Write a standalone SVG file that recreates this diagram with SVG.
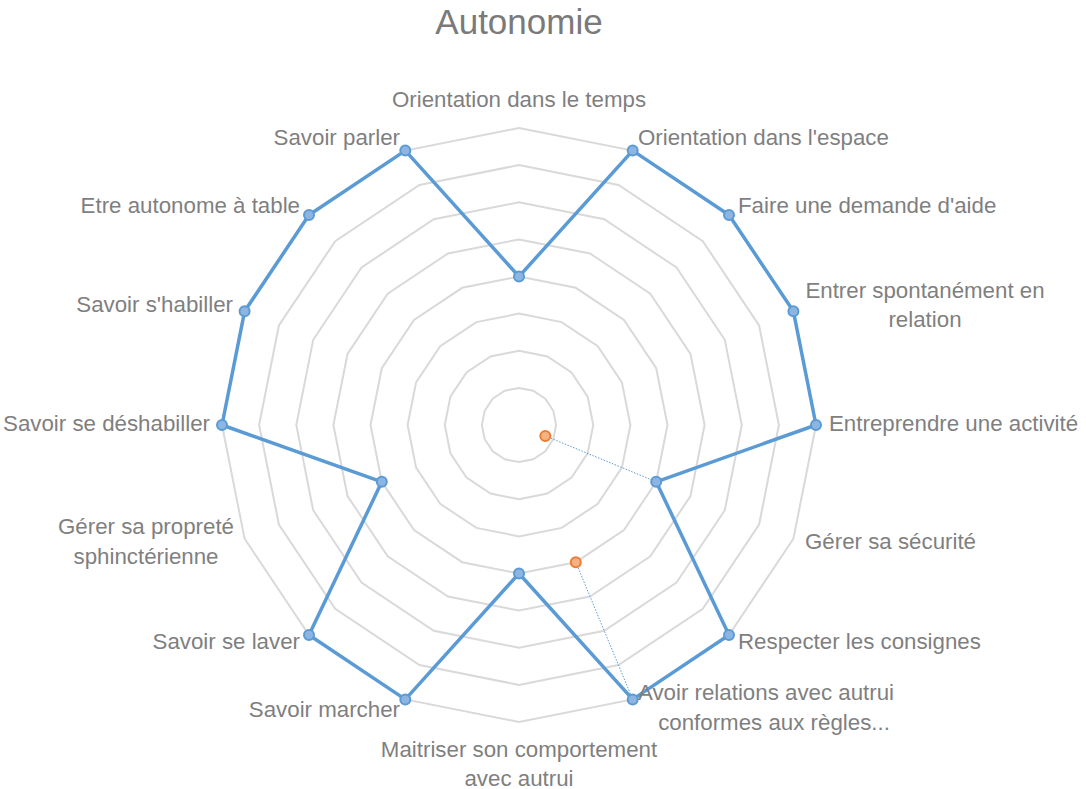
<svg xmlns="http://www.w3.org/2000/svg" width="1086" height="789" viewBox="0 0 1086 789">
<style>
.ring{fill:none;stroke:#d9d9d9;stroke-width:2}
.lbl{font-family:"Liberation Sans",Arial,sans-serif;font-size:22.3px;fill:#7f7f7f}
.title{font-family:"Liberation Sans",Arial,sans-serif;font-size:35px;fill:#7a7a7a}
.s1{fill:none;stroke:#5b9bd5;stroke-width:3.5;stroke-linejoin:round}
.m1{fill:#8db5e2;stroke:#5b9bd5;stroke-width:2}
.m2{fill:#f4b183;stroke:#ed7d31;stroke-width:2}
.dot{fill:none;stroke:#5b9bd5;stroke-width:1;stroke-dasharray:1.5 1.5}
</style>
<rect width="1086" height="789" fill="#ffffff"/>
<text class="title" x="519" y="34" text-anchor="middle">Autonomie</text>
<g id="grid">
<polygon class="ring" points="519,387.9 533.2,390.7 545.3,398.7 553.3,410.8 556.1,425 553.3,439.2 545.3,451.3 533.2,459.3 519,462.1 504.8,459.3 492.7,451.3 484.7,439.2 481.9,425 484.7,410.8 492.7,398.7 504.8,390.7"/>
<polygon class="ring" points="519,350.8 547.4,356.4 571.5,372.5 587.6,396.6 593.3,425 587.6,453.4 571.5,477.5 547.4,493.6 519,499.3 490.6,493.6 466.5,477.5 450.4,453.4 444.8,425 450.4,396.6 466.5,372.5 490.6,356.4"/>
<polygon class="ring" points="519,313.6 561.6,322.1 597.8,346.2 621.9,382.4 630.4,425 621.9,467.6 597.8,503.8 561.6,527.9 519,536.4 476.4,527.9 440.2,503.8 416.1,467.6 407.6,425 416.1,382.4 440.2,346.2 476.4,322.1"/>
<polygon class="ring" points="519,276.5 575.8,287.8 624,320 656.2,368.2 667.5,425 656.2,481.8 624,530 575.8,562.2 519,573.5 462.2,562.2 414,530 381.8,481.8 370.5,425 381.8,368.2 414,320 462.2,287.8"/>
<polygon class="ring" points="519,239.4 590,253.5 650.3,293.7 690.5,354 704.6,425 690.5,496 650.3,556.3 590,596.5 519,610.6 448,596.5 387.7,556.3 347.5,496 333.4,425 347.5,354 387.7,293.7 448,253.5"/>
<polygon class="ring" points="519,202.3 604.2,219.2 676.5,267.5 724.8,339.8 741.8,425 724.8,510.2 676.5,582.5 604.2,630.8 519,647.8 433.8,630.8 361.5,582.5 313.2,510.2 296.3,425 313.2,339.8 361.5,267.5 433.8,219.2"/>
<polygon class="ring" points="519,165.1 618.5,184.9 702.8,241.2 759.1,325.5 778.9,425 759.1,524.5 702.8,608.8 618.5,665.1 519,684.9 419.5,665.1 335.2,608.8 278.9,524.5 259.1,425 278.9,325.5 335.2,241.2 419.5,184.9"/>
<polygon class="ring" points="519,128 632.7,150.6 729,215 793.4,311.3 816,425 793.4,538.7 729,635 632.7,699.4 519,722 405.3,699.4 309,635 244.6,538.7 222,425 244.6,311.3 309,215 405.3,150.6"/>
</g>
<g id="connectors">
<line class="dot" x1="545.3" y1="435.9" x2="656.2" y2="481.8"/>
<line class="dot" x1="575.8" y1="562.2" x2="632.7" y2="699.4"/>
<polygon class="s1" points="519,276.5 632.7,150.6 729,215 793.4,311.3 816,425 656.2,481.8 729,635 632.7,699.4 519,573.5 405.3,699.4 309,635 381.8,481.8 222,425 244.6,311.3 309,215 405.3,150.6"/>
</g>
<g id="series1-markers">
<circle class="m1" cx="519" cy="276.5" r="5"/>
<circle class="m1" cx="632.7" cy="150.6" r="5"/>
<circle class="m1" cx="729" cy="215" r="5"/>
<circle class="m1" cx="793.4" cy="311.3" r="5"/>
<circle class="m1" cx="816" cy="425" r="5"/>
<circle class="m1" cx="656.2" cy="481.8" r="5"/>
<circle class="m1" cx="729" cy="635" r="5"/>
<circle class="m1" cx="632.7" cy="699.4" r="5"/>
<circle class="m1" cx="519" cy="573.5" r="5"/>
<circle class="m1" cx="405.3" cy="699.4" r="5"/>
<circle class="m1" cx="309" cy="635" r="5"/>
<circle class="m1" cx="381.8" cy="481.8" r="5"/>
<circle class="m1" cx="222" cy="425" r="5"/>
<circle class="m1" cx="244.6" cy="311.3" r="5"/>
<circle class="m1" cx="309" cy="215" r="5"/>
<circle class="m1" cx="405.3" cy="150.6" r="5"/>
</g>
<g id="series2-markers">
<circle class="m2" cx="545.3" cy="435.9" r="5"/>
<circle class="m2" cx="575.8" cy="562.2" r="5"/>
</g>
<g id="labels">
<text id="l0" class="lbl" x="519" y="107" text-anchor="middle">Orientation dans le temps</text>
<text id="l1" class="lbl" x="638" y="145">Orientation dans l'espace</text>
<text id="l2" class="lbl" x="738" y="213">Faire une demande d'aide</text>
<text id="l3" class="lbl" text-anchor="middle"><tspan x="925" y="298">Entrer spontanément en</tspan><tspan x="925" y="327">relation</tspan></text>
<text id="l4" class="lbl" x="829" y="431">Entreprendre une activité</text>
<text id="l5" class="lbl" x="805" y="549">Gérer sa sécurité</text>
<text id="l6" class="lbl" x="738" y="649">Respecter les consignes</text>
<text id="l7" class="lbl" text-anchor="middle"><tspan x="766" y="700">Avoir relations avec autrui</tspan><tspan x="774" y="730">conformes aux règles...</tspan></text>
<text id="l8" class="lbl" text-anchor="middle"><tspan x="519" y="757">Maitriser son comportement</tspan><tspan x="519" y="786">avec autrui</tspan></text>
<text id="l9" class="lbl" x="400" y="717" text-anchor="end">Savoir marcher</text>
<text id="l10" class="lbl" x="300" y="649" text-anchor="end">Savoir se laver</text>
<text id="l11" class="lbl" text-anchor="middle"><tspan x="146" y="534">Gérer sa propreté</tspan><tspan x="146" y="564">sphinctérienne</tspan></text>
<text id="l12" class="lbl" x="210" y="431" text-anchor="end">Savoir se déshabiller</text>
<text id="l13" class="lbl" x="233" y="312" text-anchor="end">Savoir s'habiller</text>
<text id="l14" class="lbl" x="300" y="213" text-anchor="end">Etre autonome à table</text>
<text id="l15" class="lbl" x="400" y="145" text-anchor="end">Savoir parler</text>
</g>
</svg>
